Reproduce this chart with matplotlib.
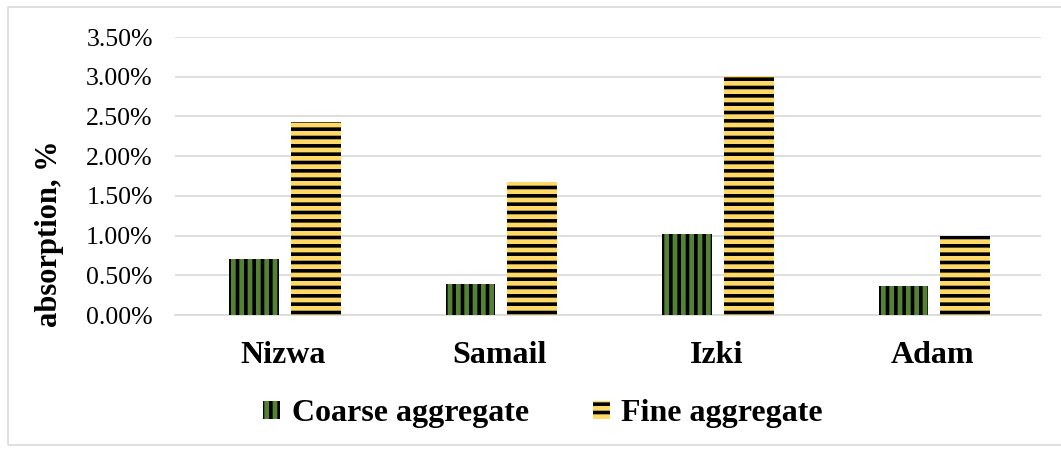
import matplotlib
matplotlib.use("Agg")
import matplotlib.pyplot as plt
import numpy as np
from matplotlib.ticker import FuncFormatter
from matplotlib.patches import Rectangle

categories = ["Nizwa", "Samail", "Izki", "Adam"]
coarse = [0.70, 0.39, 1.02, 0.36]
fine = [2.43, 1.67, 3.01, 1.00]
yticks = [0.0, 0.5, 1.0, 1.5, 2.0, 2.5, 3.0, 3.5]

plt.rcParams['font.family'] = ['Liberation Serif', 'DejaVu Serif']
plt.rcParams['hatch.linewidth'] = 2.6
plt.rcParams['hatch.color'] = 'black'

fig = plt.figure(figsize=(10.61, 4.5), dpi=100)
ax = fig.add_axes([175/1061, 1-315/450, (1041-175)/1061, (315-37)/450])

x = np.arange(len(categories))
w = 0.23
ax.bar(x - 0.135, coarse, w, color='#548235', hatch='||', edgecolor='black', linewidth=0, label='Coarse aggregate', zorder=3)
ax.bar(x + 0.15, fine, w, color='#FFD966', hatch='--', edgecolor='black', linewidth=0, label='Fine aggregate', zorder=3)

ax.set_xlim(-0.5, 3.5)
ax.set_ylim(0, 3.5)
ax.set_yticks(yticks)
ax.yaxis.set_major_formatter(FuncFormatter(lambda v, p: f"{v:.2f}%"))
ax.grid(axis='y', color='#d9d9d9', linewidth=1.2, zorder=0)
for s in ['top', 'right', 'left']:
    ax.spines[s].set_visible(False)
ax.spines['bottom'].set_color('#d9d9d9')
ax.spines['bottom'].set_linewidth(1.2)
ax.tick_params(axis='both', length=0)
ax.tick_params(axis='y', labelsize=18.5, pad=16)
ax.set_xticks(x)
ax.set_xticklabels(categories, fontsize=23, fontweight='bold')
ax.tick_params(axis='x', pad=19)
ax.set_ylabel('absorption, %', fontsize=22, fontweight='bold')
ax.yaxis.set_label_coords((64-175)/866, (315-234)/278)

leg = fig.legend(loc='center', bbox_to_anchor=(543/1061, 1-414/450), ncol=2, frameon=False,
                 prop={'size': 23, 'weight': 'bold'}, handlelength=0.55, handleheight=0.5,
                 columnspacing=2.0, handletextpad=0.35)

fig.patches.append(Rectangle((8/1061, 5/450), 1.2, 1-12/450, transform=fig.transFigure,
                             fill=False, edgecolor='#d9d9d9', linewidth=1.2))

fig.savefig('out.png', dpi=100)
